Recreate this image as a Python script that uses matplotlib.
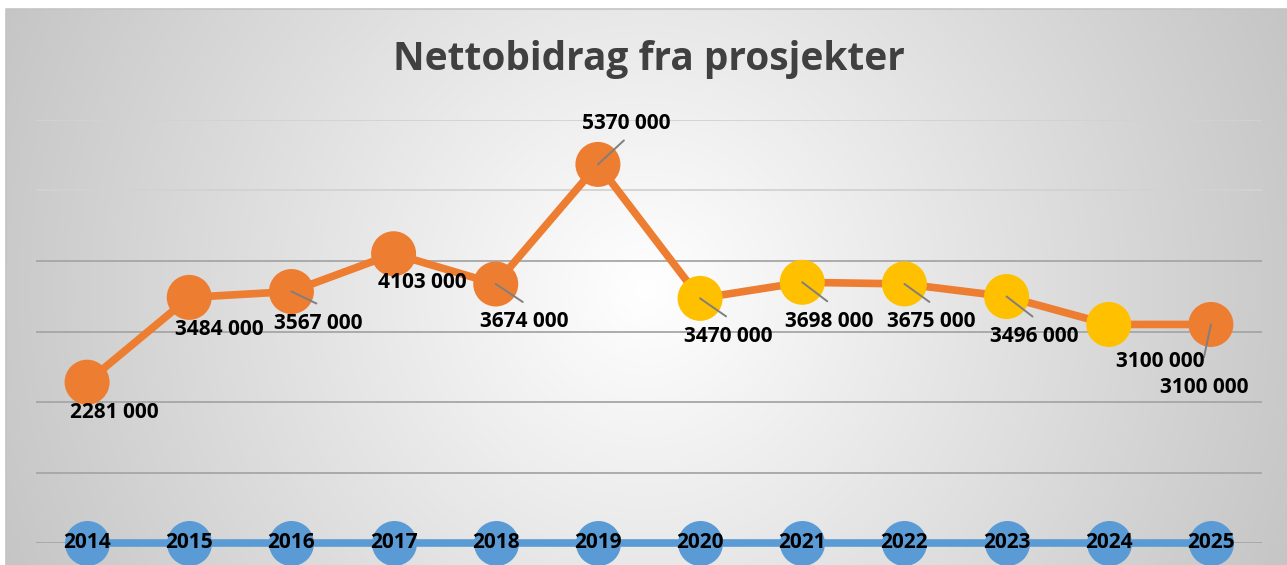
import numpy as np
import matplotlib
matplotlib.use("Agg")
import matplotlib.pyplot as plt

# ---------------- data ----------------
years = ["2014", "2015", "2016", "2017", "2018", "2019",
         "2020", "2021", "2022", "2023", "2024", "2025"]
netto = [2281000, 3484000, 3567000, 4103000, 3674000, 5370000,
         3470000, 3698000, 3675000, 3496000, 3100000, 3100000]
baseline = [0, 0, 0, 0, 0, 0, 0, 0, 0, 0, 0, 0]
title = "Nettobidrag fra prosjekter"

# ---------------- style ----------------
ORANGE = "#ED7D31"
YELLOW = "#FFC000"
BLUE = "#5B9BD5"
point_colors = [ORANGE] * 6 + [YELLOW] * 5 + [ORANGE]
FONT = "Open Sans"

# label offsets in pixels (dx right, dy down) relative to the marker centre
label_off = [(27, 30), (30, 32), (27, 32), (29, 29), (29, 38), (28, -41),
             (28, 38), (27, 39), (27, 38), (28, 40), (52, 37), (-7, 63)]
# leader line end offsets (None = no leader)
leader_off = [None, None, (25, 12), None, (27, 18), (26, -24),
              (26, 18), (25, 19), (25, 18), (26, 20), None, (-7, 33)]

W, H = 1287, 565
fig = plt.figure(figsize=(W / 100, H / 100), dpi=100)
fig.patch.set_facecolor("white")

# background radial gradient (chart area)
bg = fig.add_axes([0, 0, 1, 1], zorder=0)
yy, xx = np.mgrid[0:H, 0:W]
d = np.hypot(xx - 645, yy - 290)
g = 1.0 - d * 0.000325
img = np.dstack([g, g, g])
img[:9, :, :] = 1.0
img[:, :6, :] = 1.0
bg.imshow(img, extent=[0, W, H, 0], aspect="auto", interpolation="bilinear")
bg.set_xlim(0, W)
bg.set_ylim(H, 0)
bg.axis("off")
bg.plot([6, 6, W], [H, 9, 9], color="#c4c4c4", lw=1.2)

# main axes
left, right, top, bottom = 36, 1262, 120, 543
ax = fig.add_axes([left / W, (H - bottom) / H, (right - left) / W, (bottom - top) / H], zorder=2)
ax.patch.set_alpha(0)
x = np.arange(len(years))
ax.set_xlim(-0.5, len(years) - 0.5)
ax.set_ylim(0, 6000000)
ax.set_yticks(np.arange(0, 6000001, 1000000))
ax.set_xticks([])
ax.tick_params(left=False, labelleft=False)
for s in ax.spines.values():
    s.set_visible(False)
ax.grid(axis="y", lw=1.3, color="#a6a6a6", zorder=0)
for gl, yv in zip(ax.get_ygridlines(), ax.get_yticks()):
    if yv >= 5000000:
        gl.set_color("#d2d2d2")

# baseline (blue) series with year labels
ax.plot(x, baseline, color=BLUE, lw=5.5, zorder=3, clip_on=False, solid_capstyle="butt")
ax.scatter(x, baseline, s=32.4 ** 2, color=BLUE, zorder=4, clip_on=False, linewidths=0)
for xi, yv, lab in zip(x, baseline, years):
    ax.text(xi, yv, lab, ha="center", va="center", fontsize=15,
            fontweight="bold", family=FONT, color="black", zorder=6, clip_on=False)

# netto series
ax.plot(x, netto, color=ORANGE, lw=5.5, zorder=3, clip_on=False)
ax.scatter(x, netto, s=32.4 ** 2, c=point_colors, zorder=4, clip_on=False, linewidths=0)

for xi, v, lo, le in zip(x, netto, label_off, leader_off):
    if le is not None:
        ax.annotate("", xy=(xi, v), xytext=(le[0], -le[1]), textcoords="offset pixels",
                    arrowprops=dict(arrowstyle="-", color="#7f7f7f", lw=1.4,
                                    shrinkA=0, shrinkB=0), zorder=5)
    txt = f"{v // 1000} {v % 1000:03d}"
    ax.annotate(txt, xy=(xi, v), xytext=(lo[0], -lo[1]), textcoords="offset pixels",
                ha="center", va="center", fontsize=15, fontweight="bold",
                family=FONT, color="black", zorder=6, annotation_clip=False)

fig.text(649 / W, 1 - 60 / H, title, ha="center", va="center", fontsize=28,
         fontweight="bold", family=FONT, color="#404040")

fig.savefig("out.png", dpi=100)
